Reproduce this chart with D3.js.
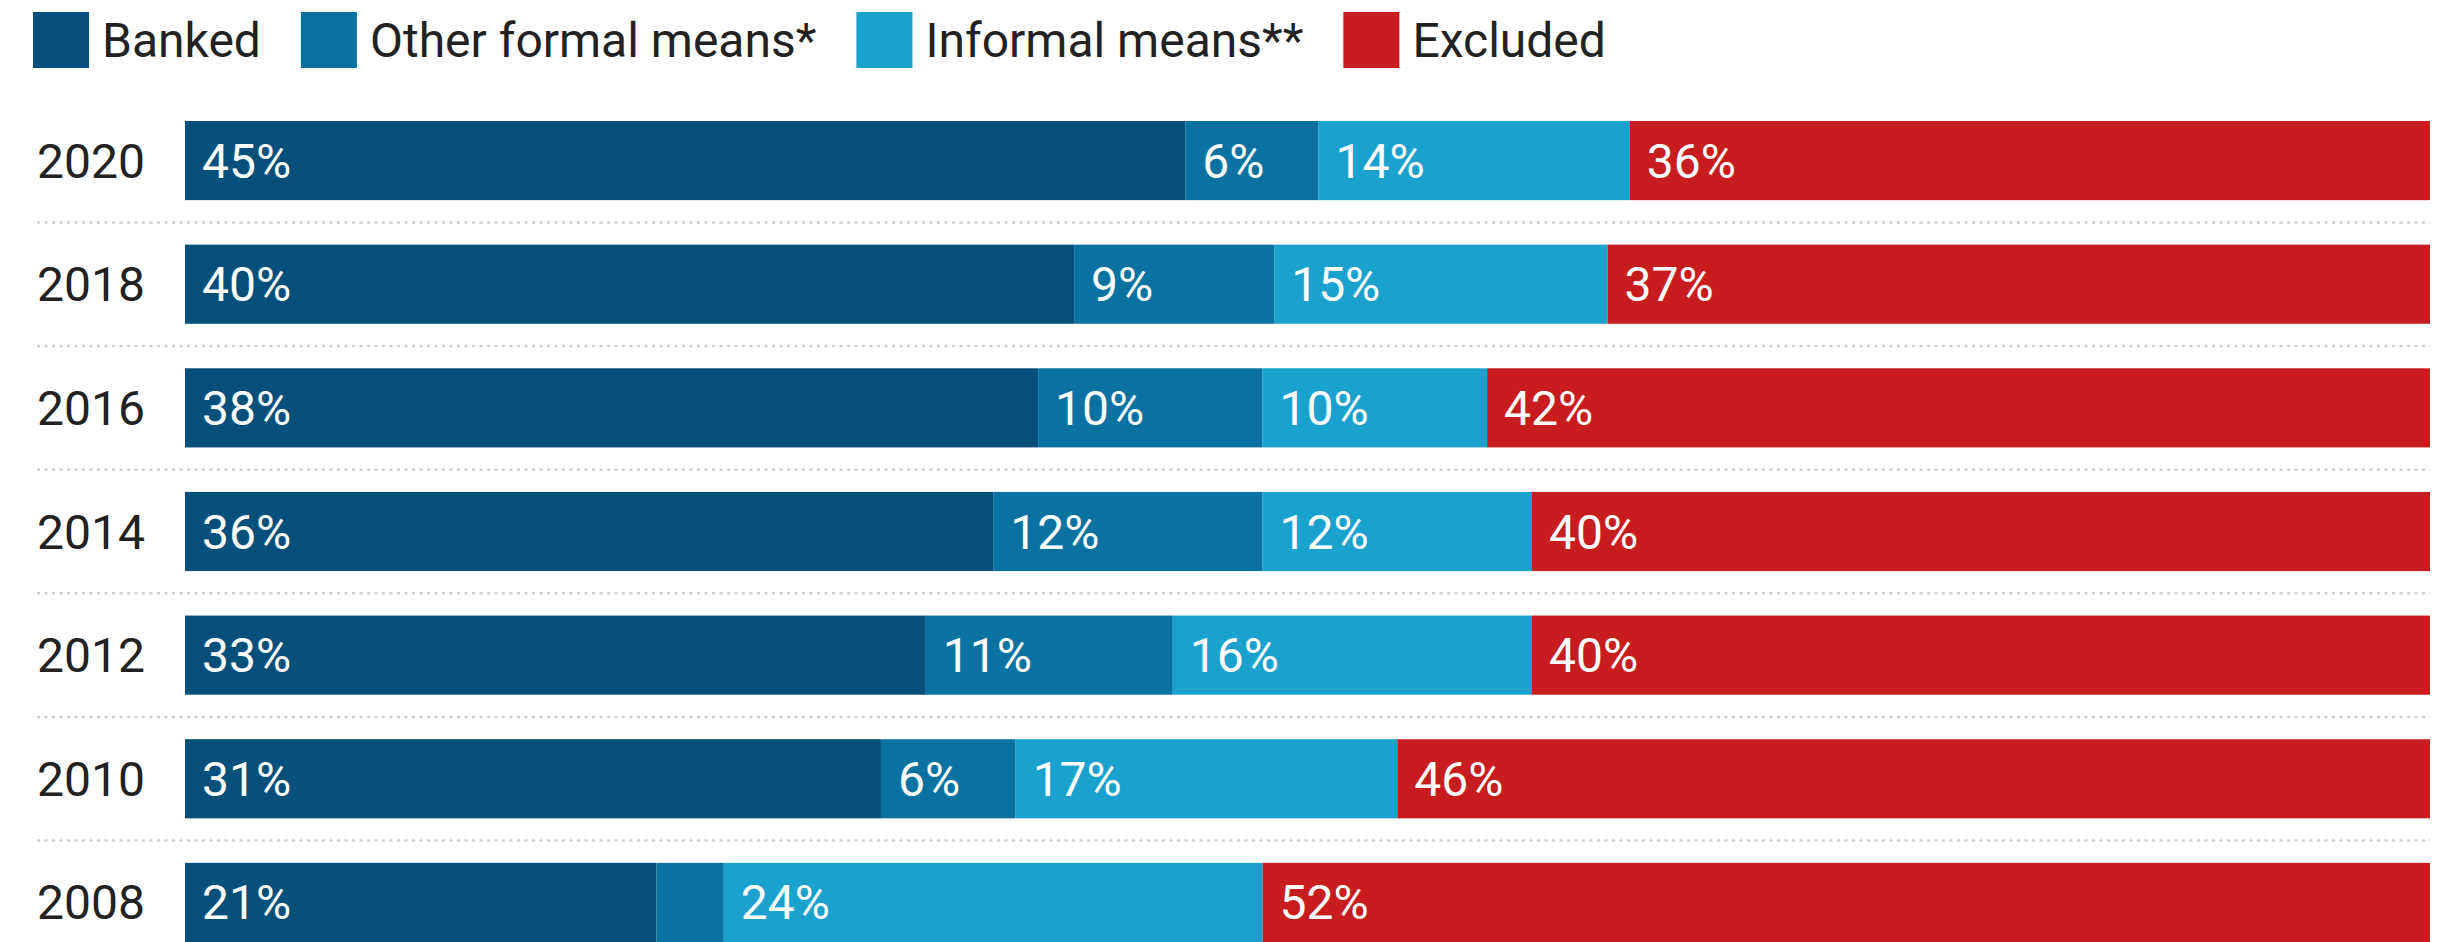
<!DOCTYPE html>
<html>
<head>
<meta charset="utf-8">
<script src="https://cdn.jsdelivr.net/npm/d3@7"></script>
<style>
  html, body { margin: 0; padding: 0; background: #ffffff; }
  svg { display: block; font-family: Roboto, "Noto Sans", sans-serif; }
</style>
</head>
<body>
<svg id="chart" width="2458" height="942"></svg>
<script>
// Survey years, newest first (top row)
const years = ["2020", "2018", "2016", "2014", "2012", "2010", "2008"];

// Share of adults by means of access, per year (%)
const seriesNames = ["Banked", "Other formal means*", "Informal means**", "Excluded"];
const banked      = [45, 40, 38, 36, 33, 31, 21];
const otherFormal = [6, 9, 10, 12, 11, 6, 3];
const informal    = [14, 15, 10, 12, 16, 17, 24];
const excluded    = [36, 37, 42, 40, 40, 46, 52];

const seriesColors = ["#05507a", "#0a72a0", "#1ba1ce", "#c71d1e"];

const W = 2458, H = 942;
const left = 185, right = 2430;
const fontSize = 48;

const rows = years.map((y, i) => ({
  year: y,
  [seriesNames[0]]: banked[i],
  [seriesNames[1]]: otherFormal[i],
  [seriesNames[2]]: informal[i],
  [seriesNames[3]]: excluded[i]
}));

const stacked = d3.stack()
  .keys(seriesNames)
  .offset(d3.stackOffsetExpand)(rows);

const x = d3.scaleLinear().domain([0, 1]).range([left, right]);
const y = d3.scaleBand().domain(years).range([121, H]).paddingInner(0.36).paddingOuter(0);
const color = d3.scaleOrdinal().domain(seriesNames).range(seriesColors);

const svg = d3.select("#chart");

// Dotted separators between rows
const sepY = years.slice(1).map(yr => y(yr) - (y.step() - y.bandwidth()) / 2);
svg.append("g").selectAll("line")
  .data(sepY)
  .join("line")
  .attr("x1", 37).attr("x2", right)
  .attr("y1", d => d).attr("y2", d => d)
  .attr("stroke", "#cfcfcf")
  .attr("stroke-width", 2.5)
  .attr("stroke-dasharray", "3 4.5");

// Stacked segments
const layer = svg.append("g").selectAll("g")
  .data(stacked)
  .join("g")
  .attr("fill", d => color(d.key));

layer.selectAll("rect")
  .data(d => d.map(p => ({ key: d.key, p })))
  .join("rect")
  .attr("x", d => x(d.p[0]))
  .attr("y", d => y(d.p.data.year))
  .attr("width", d => x(d.p[1]) - x(d.p[0]))
  .attr("height", y.bandwidth());

// Value labels inside each segment, left aligned
const pad = 17;
const labelG = svg.append("g")
  .attr("font-size", fontSize)
  .attr("fill", "#ffffff");

stacked.forEach(s => {
  s.forEach(p => {
    const v = p.data[s.key];
    const t = labelG.append("text")
      .attr("x", x(p[0]) + pad)
      .attr("y", y(p.data.year) + y.bandwidth() / 2 + fontSize * 0.355)
      .text(v + "%");
    const segW = x(p[1]) - x(p[0]);
    if (t.node().getComputedTextLength() + pad * 2 > segW) t.remove();
  });
});

// Year axis
const yAxis = svg.append("g")
  .attr("transform", `translate(${left},0)`)
  .call(d3.axisLeft(y).tickSize(0).tickPadding(40));
yAxis.select(".domain").remove();
yAxis.selectAll("text")
  .attr("font-family", "Roboto, 'Noto Sans', sans-serif")
  .attr("font-size", fontSize)
  .attr("fill", "#222222")
  .attr("dy", null)
  .attr("dominant-baseline", "auto")
  .attr("y", fontSize * 0.355);

// Legend
const legend = svg.append("g").attr("font-size", fontSize).attr("fill", "#222222");
let lx = 33;
seriesNames.forEach(name => {
  const g = legend.append("g");
  g.append("rect")
    .attr("x", lx).attr("y", 12)
    .attr("width", 56).attr("height", 56)
    .attr("fill", color(name));
  const t = g.append("text")
    .attr("x", lx + 69)
    .attr("y", 40 + fontSize * 0.355)
    .text(name);
  lx = lx + 69 + t.node().getComputedTextLength() + 40;
});
</script>
</body>
</html>
